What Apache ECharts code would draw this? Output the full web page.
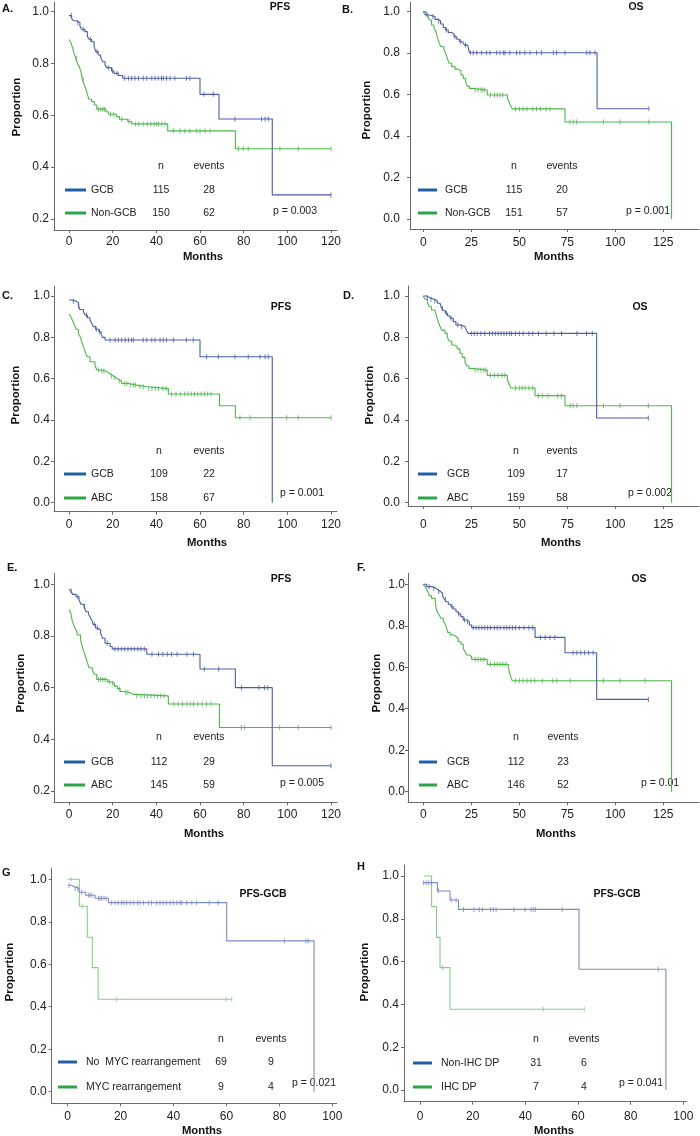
<!DOCTYPE html>
<html><head><meta charset="utf-8">
<script src="https://cdn.jsdelivr.net/npm/echarts@6/dist/echarts.min.js"></script>
<style>html,body{margin:0;padding:0;background:#fff}#c{width:700px;height:1136px}</style>
</head><body><div id="c"></div>
<script>
// ---------------- DATA ----------------
// Step curves: [month, proportion]; censor arrays: months of censor marks
const A_gcb = [[0,0.985],[1.2,0.974],[2,0.965],[3.2,0.958],[5,0.945],[5.8,0.932],[7.3,0.923],[8.4,0.904],[9.3,0.893],[10.4,0.884],[11.5,0.865],[12.2,0.846],[13.4,0.833],[14.5,0.824],[15.4,0.807],[16.5,0.794],[17.3,0.784],[19.5,0.771],[20.6,0.762],[22.6,0.754],[24.6,0.743],[60,0.681],[68.7,0.586],[93.1,0.293],[120,0.293]];
const A_gcb_c = [1,4,6.5,9.8,12.8,18,19.9,22,25.5,27.2,28.7,30.2,31.8,34,35.6,37.9,39.4,40.9,42.4,43.2,44.7,46.3,48.5,53.8,55.4,61.8,66.1,76,88.2,89.8,91.3,120];
const A_non = [[0,0.893],[0.9,0.88],[1.7,0.859],[2.3,0.839],[3.1,0.82],[3.8,0.801],[4.7,0.788],[5.5,0.768],[6.1,0.739],[7,0.717],[7.8,0.7],[8.4,0.681],[9.2,0.662],[10.4,0.653],[11.6,0.64],[12.7,0.624],[16.9,0.614],[18,0.604],[21.8,0.595],[23.1,0.585],[26.9,0.576],[28.7,0.567],[45.2,0.54],[76.2,0.471],[120,0.471]];
const A_non_c = [3.5,6.5,13.5,14.5,15.5,16.2,19,20.5,24.2,27.5,30.5,32,34,36,37.5,39,40,41,42.5,44,47.8,50.8,53.1,55.4,58.5,60,62.3,64.6,77.6,79.8,82.1,96.6,105,120];

const B_gcb = [[0,1],[1.4,0.984],[3.5,0.976],[6.1,0.963],[7.8,0.955],[9,0.941],[10.4,0.924],[11.6,0.912],[13,0.9],[14.8,0.891],[16,0.879],[17.4,0.867],[18.8,0.855],[20.5,0.847],[21.4,0.839],[23.1,0.831],[24,0.802],[90.5,0.532],[117.5,0.532]];
const B_gcb_c = [2,5,8,12,16.5,19.5,22,24.5,26,27.8,30.4,33,34.7,38.2,39.9,41.7,42.5,45.1,48.6,50.3,52.9,55.6,59,61.6,67.7,69.4,73.8,85.1,86.8,89.4,117.5];
const B_non = [[0,1],[0.9,0.984],[2.1,0.976],[3.1,0.96],[4.3,0.936],[5.6,0.92],[6.6,0.904],[7.5,0.871],[8.3,0.847],[9.2,0.831],[10.8,0.815],[11.6,0.799],[12.5,0.775],[13.4,0.751],[14.8,0.735],[16.5,0.723],[18.2,0.714],[19.6,0.695],[20.8,0.678],[22,0.662],[22.9,0.641],[24,0.63],[25.7,0.622],[33.3,0.598],[43.8,0.582],[44.6,0.566],[45.5,0.545],[46.4,0.531],[73.8,0.468],[129.3,0]];
const B_non_c = [27,28.5,30,31,32,35,37,38.5,40,41.5,48,50,52,54,57,59,61,64,66,76.4,78.1,79.9,93.8,102.4,117.5];

const C_gcb = [[0,0.981],[1.2,0.976],[3.2,0.968],[4.3,0.952],[5,0.935],[6.6,0.924],[7.3,0.908],[8.4,0.895],[9.6,0.884],[10.4,0.868],[11.1,0.852],[12.2,0.839],[13.7,0.827],[14.7,0.815],[15.4,0.8],[16.5,0.787],[60,0.706],[93.1,0]];
const C_gcb_c = [2,4.5,8,12.5,14,18.8,21.1,22.6,24.1,25.7,27.2,28.7,29.5,34,35.6,37.9,39.4,41.7,43.2,44.7,47.8,53.8,56.9,63,68.4,76,82.1,87.5,89.8,91.3];
const C_abc = [[0,0.913],[0.8,0.9],[1.5,0.884],[2.3,0.865],[3.2,0.839],[4.3,0.819],[5,0.806],[5.8,0.779],[6.3,0.763],[7,0.744],[7.6,0.723],[8.4,0.706],[9.6,0.682],[11.9,0.666],[12.7,0.642],[14.2,0.637],[16.9,0.629],[18,0.621],[19.2,0.613],[20.3,0.605],[21.5,0.597],[22.6,0.589],[24.1,0.577],[27.2,0.569],[31,0.561],[35.6,0.552],[45.5,0.526],[68.9,0.469],[76.2,0.411],[120,0.411]];
const C_abc_c = [13.5,15,16,19.5,21,23,25.5,26.5,28,29.5,30.5,32.5,34,36.5,38,39.5,41,43,44.5,47,49,51,53,54.5,56,57.5,59,60.5,62,63.5,65,78.3,82.9,99.7,105,120];

const D_gcb = [[0,1],[1.7,0.992],[3.5,0.984],[5.6,0.976],[7.3,0.965],[8.7,0.956],[9.5,0.94],[10.4,0.929],[11.6,0.916],[12.7,0.903],[13.9,0.892],[15.6,0.876],[17,0.86],[19.1,0.852],[21.7,0.844],[22.6,0.832],[23.4,0.819],[90.3,0.41],[117.2,0.41]];
const D_gcb_c = [2,4,6,10,12,14.5,18,20,25,26.5,28,30,32,34.5,36,37.5,39,40.5,42,43.5,45,46,48,50,52,55,57,60,64,68,72,80,85,88,117.2];
const D_abc = [[0,1],[0.9,0.984],[2.1,0.973],[3,0.948],[4.3,0.932],[6.1,0.924],[6.9,0.9],[7.8,0.876],[8.7,0.852],[9.5,0.835],[11.3,0.819],[12.5,0.8],[13.5,0.782],[14.8,0.763],[16,0.755],[17.7,0.744],[19.1,0.723],[20.3,0.703],[21.7,0.682],[22.6,0.661],[23.8,0.65],[25.2,0.642],[33.3,0.616],[43.75,0.597],[44.6,0.577],[45.5,0.555],[58.2,0.518],[73.8,0.469],[129.3,0]];
const D_abc_c = [27,28.5,30,31.5,32.5,35,37,39,41,42.5,48,50,51.5,53,55,57,60,62,65,70,72,76.5,78,80,93.8,102.4,117.2];

const E_gcb = [[0,0.982],[0.8,0.974],[1.7,0.961],[3.2,0.952],[4.6,0.939],[5.5,0.923],[6.9,0.914],[7.8,0.894],[8.9,0.884],[9.6,0.875],[10.4,0.862],[11.1,0.845],[12.2,0.83],[13.4,0.823],[14.5,0.81],[15.4,0.791],[16.5,0.772],[18.8,0.759],[19.8,0.75],[35.6,0.729],[60,0.672],[76.2,0.6],[93.1,0.298],[120,0.298]];
const E_gcb_c = [1,4,7,11.5,13,17.5,21,22.5,24,25.5,27,28.5,30,31.5,33,34.5,38,41,43,45,47,49.5,54,57,62,68.5,79,87,89.5,91,120];
const E_abc = [[0,0.903],[0.8,0.89],[1.5,0.858],[2.3,0.839],[3.2,0.823],[4,0.804],[5.3,0.785],[5.8,0.768],[6.3,0.752],[7,0.733],[7.8,0.714],[8.4,0.697],[9.2,0.677],[10.7,0.668],[11.6,0.652],[12.7,0.632],[17.6,0.623],[19.1,0.617],[20.8,0.606],[22.1,0.597],[23.4,0.585],[24.9,0.581],[27.9,0.574],[29.5,0.568],[45.5,0.537],[68.9,0.446],[120,0.446]];
const E_abc_c = [13.5,14.5,15.5,16.5,18.5,20,23,26,27,31,33,34.5,36,37.5,39,40.5,42,43.5,48,50,52,54,55.5,57,59,61,63,65,79,80.5,96.5,105,120];

const F_gcb = [[0,1],[1.7,0.989],[4.3,0.981],[6.6,0.973],[7.8,0.965],[9,0.957],[10.1,0.941],[10.9,0.929],[11.8,0.916],[13,0.904],[14.4,0.892],[15.6,0.881],[17,0.868],[18.2,0.857],[19.6,0.844],[20.8,0.828],[22.6,0.82],[24,0.804],[25.2,0.791],[58.2,0.744],[73.8,0.67],[90.3,0.445],[117.2,0.445]];
const F_gcb_c = [3,5.5,8,11.5,15,18.5,21.5,23,26,27.5,29,30.5,32,33.5,35,37,38.5,40,42,43.5,45,46.5,48,50,52.5,55,57,61,63.5,66,68.5,78,80,82,84,86,88.5,117.2];
const F_abc = [[0,1],[0.9,0.989],[1.7,0.976],[2.6,0.96],[3.1,0.944],[4.3,0.932],[6.1,0.924],[6.6,0.887],[7.3,0.865],[8.3,0.852],[9.2,0.836],[10.4,0.824],[11.3,0.809],[12.2,0.788],[12.7,0.768],[13.9,0.756],[15.6,0.748],[17,0.74],[18.2,0.723],[19.6,0.711],[20.8,0.691],[21.7,0.675],[22.6,0.659],[24,0.651],[25.2,0.638],[33.3,0.614],[44.3,0.598],[44.8,0.579],[45.5,0.555],[46.4,0.535],[129.3,0]];
const F_abc_c = [27,28.5,30,31.5,35,37,38.5,40,41.5,43,48,50,52,54,56,58,62,67.5,69.5,76.5,93.8,102.4,115.5];

const G_no = [[0,0.972],[1.3,0.965],[2.4,0.958],[4.3,0.939],[6.8,0.925],[10.3,0.911],[15.4,0.89],[60.1,0.71],[93.1,0]];
const G_no_c = [0.5,2.8,3.7,5.3,7.8,8.4,9.1,11.6,12.2,12.8,13.7,14.5,16.6,17.9,19.1,20.4,21.3,22.3,23.6,24.8,26.4,27.3,28.6,30.5,31.7,33.6,34.9,36.1,37.4,38.7,39.9,41.2,42.4,43.1,45,46.9,48.7,53.5,56.9,81.9,90,90.9];
const G_myc = [[0,1],[4.4,0.873],[7.4,0.727],[9.3,0.584],[11.5,0.435],[62,0.435]];
const G_myc_c = [1.3,5.5,18.5,59.8,62];

const H_non = [[1.3,0.969],[6.6,0.93],[11.4,0.888],[14.6,0.844],[60.4,0.564],[93.4,0]];
const H_non_c = [1.3,2.3,3.3,4.3,7,11.8,13.7,16.5,20.5,22.5,23.7,26.8,27.8,28.9,35.7,39.9,42.2,43,43.8,54,90.5];
const H_dp = [[1.5,1],[4.4,0.857],[6.3,0.713],[7.6,0.572],[11.4,0.377],[62.4,0.377]];
const H_dp_c = [8.6,46.8,62.4];

const panelLetters = ['A.','B.','C.','D.','E.','F.','G','H'];
const panelTitles = ['PFS','OS','PFS','OS','PFS','OS','PFS-GCB','PFS-GCB'];
const groupNames = [['GCB','Non-GCB'],['GCB','Non-GCB'],['GCB','ABC'],['GCB','ABC'],['GCB','ABC'],['GCB','ABC'],['No  MYC rearrangement','MYC rearrangement'],['Non-IHC DP','IHC DP']];
const nValues = [[115,150],[115,151],[109,158],[109,159],[112,145],[112,146],[69,9],[31,7]];
const eventValues = [[28,62],[20,57],[22,67],[17,58],[29,59],[23,52],[9,4],[6,4]];
const pValues = ['p = 0.003','p = 0.001','p = 0.001','p = 0.002','p = 0.005','p = 0.01','p = 0.021','p = 0.041'];
const yTicksA = [0.2,0.4,0.6,0.8,1.0];
const yTicksB = [0,0.2,0.4,0.6,0.8,1.0];
const xTicks120 = [0,20,40,60,80,100,120];
const xTicks125 = [0,25,50,75,100,125];
const xTicks100 = [0,20,40,60,80,100];
const axisNameY = 'Proportion';
const axisNameX = 'Months';
const nHeader = 'n';
const eventsHeader = 'events';

// ---------------- LAYOUT ----------------
const curves = [[A_gcb,A_gcb_c,A_non,A_non_c],[B_gcb,B_gcb_c,B_non,B_non_c],[C_gcb,C_gcb_c,C_abc,C_abc_c],[D_gcb,D_gcb_c,D_abc,D_abc_c],[E_gcb,E_gcb_c,E_abc,E_abc_c],[F_gcb,F_gcb_c,F_abc,F_abc_c],[G_no,G_no_c,G_myc,G_myc_c],[H_non,H_non_c,H_dp,H_dp_c]];
const LY = [
 {box:[54,2,337,230], xc:[69,331,120], yc:[11.7,219,0.2], xt:xTicks120, yt:yTicksA, xlab:242, ylm:5, letter:[2,9], title:[280,7], prop:[17,107], months:[203,257], hdr:166, r1:190, r2:213, line:[65,86], name:91, nCol:161, evCol:209, p:[295,211]},
 {box:[410,2,699,229], xc:[423.3,663.3,125], yc:[11.7,219,0], xt:xTicks125, yt:yTicksB, xlab:243, ylm:10, letter:[342,10], title:[636,7], prop:[367,110], months:[554,257], hdr:166, r1:190, r2:213, line:[418,437], name:445, nCol:514, evCol:562, p:[648,211]},
 {box:[54,286,337,511.7], xc:[69,331,120], yc:[296,502.7,0], xt:xTicks120, yt:yTicksB, xlab:525, ylm:4, letter:[2,296], title:[281,307], prop:[16,395], months:[207,543], hdr:451, r1:474, r2:498, line:[64,86], name:91, nCol:159, evCol:209, p:[302,493]},
 {box:[408,286,699,506], xc:[423.3,663.3,125], yc:[296,502.7,0], xt:xTicks125, yt:yTicksB, xlab:525, ylm:8, letter:[343,296], title:[640,307], prop:[370,395], months:[561,543], hdr:451, r1:474, r2:498, line:[418,437], name:447, nCol:516, evCol:562, p:[650,493]},
 {box:[54,573.3,337,802.3], xc:[69,331,120], yc:[584.3,791,0.2], xt:xTicks120, yt:yTicksA, xlab:815, ylm:4, letter:[7,568], title:[281,579], prop:[21,683], months:[204,834], hdr:737, r1:762, r2:785, line:[64,85], name:91, nCol:159, evCol:209, p:[302,783]},
 {box:[408,573.3,699,802.3], xc:[423.3,663.3,125], yc:[584.3,791.7,0], xt:xTicks125, yt:yTicksB, xlab:815, ylm:3, letter:[357,568], title:[639,579], prop:[377,683], months:[556,834], hdr:737, r1:762, r2:785, line:[419,437], name:447, nCol:516, evCol:563, p:[660,783]},
 {box:[51.7,868.3,336.7,1103.3], xc:[67.7,332.3,100], yc:[879.3,1091.7,0], xt:xTicks100, yt:yTicksB, xlab:1117, ylm:5, letter:[2,873], title:[263,894], prop:[10,972], months:[202,1131], hdr:1039, r1:1062, r2:1087, line:[58,77], name:86, nCol:221, evCol:271, p:[314,1083]},
 {box:[404,865,686.7,1101.7], xc:[420,683.3,100], yc:[876,1090,0], xt:xTicks100, yt:yTicksB, xlab:1117, ylm:5, letter:[357,867], title:[617,894], prop:[365,972], months:[554,1131], hdr:1039, r1:1063, r2:1087, line:[413,432], name:441, nCol:536, evCol:584, p:[641,1083]}
];

const FONT = 'Liberation Sans, Arial, sans-serif';
const TXT = '#222';
const AX = '#6a6a6a';
const lineBlue = ['#4a5cab','#4a5cab','#4a5cab','#4a5cab','#4a5cab','#4a5cab','#7c8ac6','#7c8ac6'];
const lineGreen = ['#4cb84c','#4cb84c','#4cb84c','#4cb84c','#4cb84c','#4cb84c','#88cc88','#88cc88'];
const legBlue = '#1f5fa8', legGreen = '#2aa548';

function survAt(curve, t){ let v = curve[0][1]; for (const [tt,s] of curve){ if (tt <= t) v = s; else break; } return v; }

const grids=[], xAxes=[], yAxes=[], series=[], graphics=[];
LY.forEach((L,i)=>{
  const [l,t,r,b] = L.box;
  grids.push({left:l, top:t, width:r-l, height:b-t, containLabel:false, outerBoundsMode:'none'});
  const pxPerX = (L.xc[1]-L.xc[0])/L.xc[2];
  const xmin = (l-L.xc[0])/pxPerX, xmax = (r-L.xc[0])/pxPerX;
  const unit = (L.yc[1]-L.yc[0])/(1-L.yc[2]);
  const ymin = 1-(b-L.yc[0])/unit, ymax = 1+(L.yc[0]-t)/unit;
  xAxes.push({type:'value', gridIndex:i, min:xmin, max:xmax, position:'bottom',
    axisLine:{show:true, onZero:false, lineStyle:{color:AX, width:1}},
    axisTick:{show:true, length:3, customValues:L.xt, lineStyle:{color:AX}},
    axisLabel:{customValues:L.xt, margin:L.xlab-6.5-b, color:TXT, fontSize:12, fontFamily:FONT, formatter:v=>String(Math.round(v))},
    splitLine:{show:false}});
  yAxes.push({type:'value', gridIndex:i, min:ymin, max:ymax, position:'left',
    axisLine:{show:true, onZero:false, lineStyle:{color:AX, width:1}},
    axisTick:{show:true, length:3, customValues:L.yt, lineStyle:{color:AX}},
    axisLabel:{customValues:L.yt, margin:L.ylm, color:TXT, fontSize:12, fontFamily:FONT, formatter:v=>v.toFixed(1)},
    splitLine:{show:false}});
  const [c1, c1c, c2, c2c] = curves[i];
  const cols = [lineBlue[i], lineGreen[i]];
  [[c2,c2c,cols[1]],[c1,c1c,cols[0]]].forEach(([cv,cc,col])=>{
    series.push({type:'line', xAxisIndex:i, yAxisIndex:i, data:cv, step:'end', showSymbol:false, symbol:'none',
      lineStyle:{color:col, width:1.1}, silent:true, animation:false, z:2});
    series.push({type:'scatter', xAxisIndex:i, yAxisIndex:i, data:cc.map(tm=>[tm, survAt(cv,tm)]),
      symbol:'rect', symbolSize:[1,5], itemStyle:{color:col}, silent:true, animation:false, z:3});
  });
  const txt = (x,y,s,opt={}) => graphics.push({type:'text', x, y, rotation:opt.rot||0, silent:true,
    style:{text:s, fill:opt.fill||TXT, fontSize:opt.size||10.5, fontWeight:opt.bold?'bold':'normal', fontFamily:FONT,
      align:opt.align||'center', verticalAlign:'middle'}});
  txt(L.letter[0], L.letter[1], panelLetters[i], {bold:true, size:11, align:'left', fill:'#111'});
  txt(L.title[0], L.title[1], panelTitles[i], {bold:true, size:10.5, fill:'#111'});
  txt(L.prop[0], L.prop[1], axisNameY, {bold:true, size:11.5, rot:Math.PI/2, fill:'#111'});
  txt(L.months[0], L.months[1], axisNameX, {bold:true, size:11.3, fill:'#111'});
  txt(L.nCol, L.hdr, nHeader, {});
  txt(L.evCol, L.hdr, eventsHeader, {});
  [[L.r1, legBlue, 0],[L.r2, legGreen, 1]].forEach(([yy,col,k])=>{
    graphics.push({type:'line', silent:true, shape:{x1:L.line[0], y1:yy, x2:L.line[1], y2:yy}, style:{stroke:col, lineWidth:3}});
    txt(L.name, yy, groupNames[i][k], {align:'left'});
    txt(L.nCol, yy, String(nValues[i][k]), {});
    txt(L.evCol, yy, String(eventValues[i][k]), {});
  });
  txt(L.p[0], L.p[1], pValues[i], {});
});

const chart = echarts.init(document.getElementById('c'), null, {renderer:'canvas'});
chart.setOption({animation:false, backgroundColor:'#fff', grid:grids, xAxis:xAxes, yAxis:yAxes, series, graphic:graphics});
</script></body></html>
